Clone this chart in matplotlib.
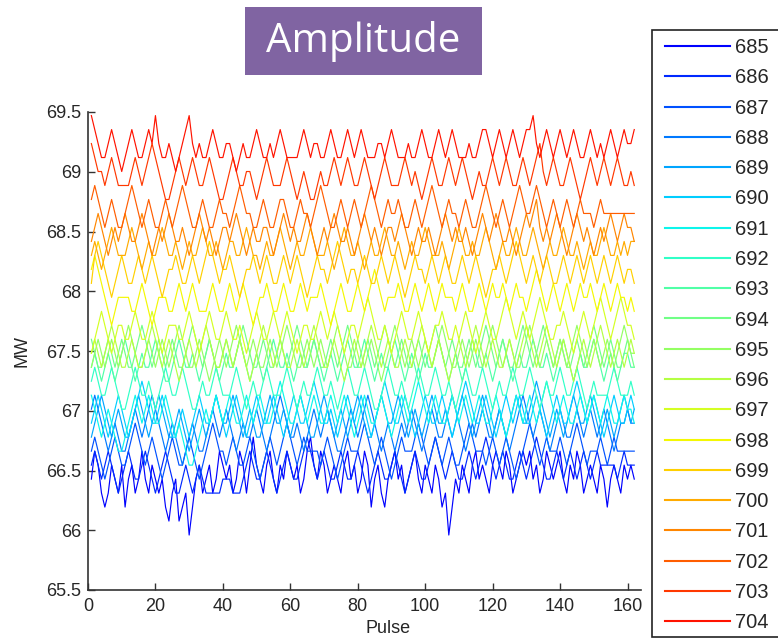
import numpy as np
import matplotlib
matplotlib.use("Agg")
import matplotlib.pyplot as plt
from matplotlib.patches import Rectangle

plt.rcParams["font.family"] = ["Liberation Sans", "DejaVu Sans"]

# Readings are quantised; each list holds the level index.
# MW value = LEVEL_BASE + LEVEL_STEP * level
LEVEL_BASE = 65.96
LEVEL_STEP = 0.117

wavelengths = ["685", "686", "687", "688", "689", "690", "691", "692", "693", "694",
               "695", "696", "697", "698", "699", "700", "701", "702", "703", "704"]

s685 = [4,6,5,3,2,3,5,4,3,5, 2,4,5,3,4,6,4,3,5,4, 3,4,2,1,3,4,1,2,3,0, 2,4,5,3,4,5,3,4,6,5,
        4,5,3,4,6,5,3,5,7,5, 4,3,5,6,4,3,5,4,6,5, 4,5,3,4,6,7,5,4,6,5, 3,4,5,4,3,5,6,4,5,3,
        4,6,5,2,4,5,3,2,4,5, 6,4,5,3,4,5,6,4,3,5, 4,3,5,4,2,3,0,2,4,3, 5,4,3,5,6,4,5,4,3,5,
        6,5,4,6,5,3,4,5,6,5, 6,4,5,3,4,6,5,4,5,6, 4,3,5,4,6,5,3,4,5,4, 3,5,4,2,4,5,4,3,5,4, 5,4]
s686 = [5,6,5,4,5,6,5,4,3,4, 5,6,5,4,4,5,6,5,4,3, 4,5,6,5,4,3,3,4,5,4, 3,4,5,4,3,3,3,3,3,4,
        4,4,3,3,3,4,5,6,5,4, 4,5,6,5,4,3,4,5,6,5, 4,4,5,6,7,6,5,4,5,6, 5,4,4,5,6,5,4,4,5,6,
        5,4,3,4,5,6,5,4,4,5, 6,5,4,3,4,5,6,5,4,4, 5,6,7,6,5,4,5,6,5,4, 4,5,6,5,4,5,6,7,6,5,
        4,5,6,5,4,4,5,6,5,4, 5,6,7,6,5,4,4,5,6,5, 4,5,6,5,4,5,6,5,4,5, 6,5,5,5,5,5,4,5,6,5, 5,5]
s687 = [6,7,6,5,4,5,6,7,6,5, 5,6,7,8,7,6,5,6,7,6, 5,4,5,6,7,6,5,5,6,7, 6,5,4,5,6,7,8,7,6,6,
        5,6,7,6,5,5,6,7,6,5, 4,5,6,7,6,5,6,7,8,7, 6,5,6,7,6,6,6,6,5,6, 7,6,5,4,5,6,7,6,6,6,
        7,8,7,6,5,6,7,6,5,4, 5,6,7,6,6,6,7,8,7,6, 5,6,7,6,5,6,7,6,5,5, 6,7,8,7,6,6,6,5,6,7,
        6,5,6,7,6,5,4,5,6,7, 8,7,6,5,6,7,6,6,6,7, 6,5,6,7,8,7,6,5,6,6, 6,7,6,5,6,7,6,6,6,6, 6,6]
s688 = [9,10,9,8,7,6,7,8,7,6, 6,7,8,9,8,7,8,9,10,9, 8,7,6,7,8,7,6,5,6,7, 8,7,6,6,7,8,9,8,7,8,
        9,8,7,6,7,8,7,7,8,9, 8,7,6,7,8,9,10,9,8,7, 7,8,7,6,7,8,9,8,7,8, 9,8,7,6,6,7,8,9,8,7,
        8,9,10,9,8,7,6,7,8,7, 6,7,8,7,8,9,8,7,6,7, 8,9,8,7,7,8,9,10,9,8, 7,6,7,8,7,8,9,8,7,7,
        8,9,8,7,6,7,8,9,10,9, 8,7,8,9,8,7,6,7,8,9, 8,7,7,8,9,8,7,8,9,8, 7,8,9,8,7,6,7,8,8,9, 8,8]
s689 = [7,8,9,10,9,8,7,8,9,8, 7,7,8,9,10,9,8,7,8,9, 10,9,8,7,7,8,9,8,7,6, 7,8,9,8,7,8,9,10,9,8,
        8,9,10,9,8,7,8,9,8,7, 7,8,9,10,9,8,8,9,8,7, 8,9,10,9,8,7,7,8,9,10, 9,8,7,8,9,8,7,8,9,10,
        9,8,7,7,8,9,10,9,8,8, 9,10,9,8,7,8,9,8,7,8, 9,10,9,8,8,9,8,7,8,9, 10,9,8,7,8,9,10,9,8,7,
        8,9,8,7,8,9,10,9,8,8, 9,10,11,10,9,8,7,8,9,8, 7,8,9,10,9,8,8,9,10,9, 8,7,8,9,8,7,8,9,10,9, 8,9]
s690 = [8,9,10,9,8,7,8,9,10,9, 8,7,8,9,10,11,10,9,8,8, 9,10,9,8,7,7,8,9,8,7, 8,9,10,9,8,8,9,10,9,8,
        7,8,9,10,9,8,7,8,9,10, 9,8,8,9,10,9,8,7,8,9, 10,9,8,8,9,10,11,10,9,8, 8,9,8,7,8,9,10,9,8,9,
        10,9,8,7,8,9,10,11,10,9, 8,8,9,10,9,8,7,8,9,10, 9,8,8,9,10,9,8,7,8,9, 10,11,10,9,8,8,9,10,9,8,
        7,8,9,10,9,8,9,10,9,8, 8,9,10,9,8,7,8,9,10,9, 8,8,9,10,11,10,9,8,9,10, 9,8,7,8,9,10,9,8,8,9, 10,9]
s691 = [10,9,8,7,8,9,8,7,6,6, 7,8,9,10,9,8,9,10,9,8, 8,9,10,9,8,7,8,7,6,5, 5,6,7,8,9,8,9,10,9,8,
        9,10,9,8,8,9,10,9,8,9, 10,9,8,8,9,10,11,10,9,8, 8,9,10,9,8,9,10,9,8,8, 9,10,9,8,9,10,9,8,7,8,
        9,10,9,8,8,9,10,9,8,7, 8,9,10,9,8,9,10,11,10,9, 8,9,10,9,8,8,9,10,9,8, 9,10,9,8,9,10,9,8,8,9,
        10,9,8,7,8,9,10,9,8,9, 10,9,8,9,10,11,10,9,8,9, 10,9,8,8,9,10,9,8,9,10, 9,8,9,10,9,8,8,9,10,9, 9,8]
s692 = [11,12,11,10,10,11,12,11,10,9, 9,10,11,12,11,10,10,11,10,9, 10,11,12,11,10,10,11,12,11,10,
        9,9,10,11,10,10,11,12,11,10, 10,10,11,12,11,10,9,10,11,10, 10,11,12,11,10,10,10,11,12,11,
        10,9,10,11,10,10,11,12,11,10, 10,11,10,9,10,11,12,11,10,10, 11,12,11,10,9,9,10,11,12,11,
        10,10,11,10,9,10,11,12,11,10, 10,11,12,11,10,10,11,10,9,10, 11,12,11,10,10,11,12,11,10,9,
        10,11,10,10,11,12,11,10,10,11, 12,11,10,9,10,11,10,10,11,12, 11,10,10,11,12,11,10,9,10,11,
        10,10,10,10,11,12,11,10,10,10, 11,10]
s693 = [12,13,12,11,12,13,12,11,12,13, 14,13,12,11,12,13,12,12,13,14, 13,12,11,11,12,13,14,13,12,12,
        13,12,11,12,13,14,13,12,11,12, 13,12,12,13,14,13,12,11,12,13, 12,11,12,13,14,13,12,12,13,12,
        11,12,13,12,12,13,14,13,12,11, 12,13,12,11,12,13,14,13,12,12, 13,14,13,12,11,12,13,12,12,13,
        14,13,12,11,12,13,12,11,12,13, 12,12,13,14,13,12,11,12,13,12, 11,12,13,14,13,12,12,13,12,11,
        12,13,14,13,12,11,12,13,12,12, 13,14,13,12,12,13,12,11,12,13, 14,13,12,11,12,13,12,12,13,14,
        13,12,11,12,13,12,11,12,13,13, 12,12]
s694 = [14,13,12,12,13,14,13,12,13,14, 13,12,12,13,14,15,14,13,12,13, 14,13,12,13,14,13,12,12,13,14,
        15,14,13,12,13,14,13,12,12,13, 14,13,12,13,14,15,14,13,12,12, 13,14,13,12,12,13,14,13,12,13,
        14,15,14,13,12,13,14,13,12,12, 13,14,13,12,13,14,15,14,13,12, 12,13,14,13,12,13,14,15,14,13,
        12,13,14,13,12,12,13,14,13,12, 13,14,15,14,13,12,13,14,13,12, 12,13,14,13,12,13,14,15,14,13,
        12,13,14,13,12,12,13,14,15,14, 13,12,13,14,15,14,13,12,13,14, 13,12,12,13,14,13,12,13,14,15,
        14,13,12,13,14,13,12,12,13,14, 13,12]
s695 = [12,13,14,13,12,13,14,13,12,13, 14,15,14,13,12,12,13,14,13,12, 13,14,13,12,13,14,15,14,13,12,
        12,13,14,13,12,11,12,13,14,13, 12,13,14,15,14,13,12,13,14,13, 12,12,13,14,13,12,13,14,15,14,
        13,12,12,13,14,13,12,13,14,13, 12,13,14,15,14,13,12,12,13,14, 13,12,13,14,13,12,11,12,13,14,
        15,14,13,12,13,14,13,12,13,14, 13,12,13,14,15,14,13,12,12,13, 14,13,12,13,14,13,12,13,14,15,
        14,13,12,13,14,13,12,12,13,14, 15,14,13,12,13,14,13,12,13,14, 13,12,13,14,15,14,13,12,13,14,
        13,12,13,14,13,12,13,14,15,14, 13,13]
s696 = [13,14,13,12,13,14,15,14,13,12, 12,13,14,13,12,12,13,14,15,14, 13,12,13,14,13,12,11,12,13,14,
        13,12,13,14,15,14,13,12,12,13, 14,13,12,13,14,13,12,11,12,13, 14,15,14,13,12,13,14,13,12,12,
        13,14,13,12,13,14,15,14,13,12, 12,13,14,13,12,11,12,13,14,13, 12,13,14,15,14,13,12,13,14,13,
        12,12,13,14,13,12,13,14,15,14, 13,12,13,14,13,12,11,12,13,14, 13,12,13,14,15,14,13,12,13,14,
        13,12,12,13,14,13,12,13,14,15, 14,13,12,13,14,15,14,13,12,13, 14,13,12,11,12,13,14,13,12,13,
        14,15,14,13,12,13,14,13,12,13, 14,13]
s697 = [13,14,15,16,15,14,13,14,15,15, 14,14,15,16,15,14,14,15,16,15, 14,13,14,15,15,15,14,14,15,16,
        15,14,13,14,15,16,15,14,14,15, 16,15,14,14,15,14,13,14,15,16, 15,14,14,15,16,15,14,15,16,15,
        14,13,14,15,15,14,14,15,16,15, 14,15,16,15,14,13,14,15,15,14, 15,16,17,16,15,14,14,15,14,13,
        14,15,16,15,14,14,15,16,15,14, 13,14,15,15,16,15,14,14,15,14, 15,16,15,14,13,14,15,16,15,14,
        14,15,16,17,16,15,14,15,16,15, 14,15,16,17,16,15,14,14,15,15, 16,15,14,13,14,15,16,15,14,15,
        16,17,16,15,14,15,16,17,16,15, 15,14]
s698 = [19,20,19,18,17,16,15,16,17,17, 17,17,16,16,17,18,17,16,15,16, 17,17,17,16,16,17,18,17,16,17,
        18,17,16,16,16,17,18,17,16,16, 17,18,17,16,17,18,17,16,15,16, 17,17,18,17,16,16,17,18,17,16,
        16,17,18,17,16,17,17,17,18,17, 16,15,16,17,18,17,16,16,17,18, 17,16,17,18,19,18,17,16,17,17,
        17,18,17,16,16,17,18,17,16,17, 18,17,16,17,18,17,17,17,16,17, 18,17,16,16,17,18,17,16,17,18,
        17,17,18,17,16,17,18,17,17,16, 17,18,19,18,17,16,17,18,17,16, 17,18,17,16,17,18,17,17,18,17,
        16,17,18,17,16,17,18,17,17,16, 17,16]
s699 = [18,20,21,20,19,18,17,18,19,20, 19,18,18,19,20,19,18,19,20,19, 18,17,18,19,19,20,19,18,18,19,
        20,19,18,19,20,21,20,19,18,19, 19,20,19,18,17,18,19,19,20,19, 18,19,20,19,18,18,19,20,19,18,
        19,20,19,18,17,18,19,20,19,19, 18,19,20,21,20,19,18,19,19,18, 19,20,19,18,18,19,20,19,18,19,
        20,19,18,17,18,19,20,19,19,18, 19,20,19,18,19,20,19,18,18,19, 20,19,18,19,20,19,18,17,18,19,
        19,20,19,18,19,20,21,20,19,18, 19,20,19,18,19,20,19,18,18,19, 20,19,18,19,20,19,18,19,20,19,
        18,19,20,19,18,19,20,19,18,19, 19,18]
s700 = [20,21,20,19,20,21,22,21,20,20, 20,21,22,21,20,19,20,21,20,20, 21,22,21,20,20,21,20,19,20,21,
        20,20,21,22,21,20,20,21,20,19, 20,21,21,20,20,21,22,21,20,20, 19,20,21,20,20,21,22,21,20,19,
        20,21,20,20,21,22,21,20,20,20, 21,20,19,20,21,22,21,20,20,21, 20,19,20,21,20,20,21,22,21,20,
        20,21,20,19,20,21,20,20,21,22, 21,20,20,20,21,20,19,20,21,22, 21,20,20,21,20,20,21,22,21,20,
        19,20,21,20,20,21,22,21,20,20, 21,22,21,20,19,20,21,20,20,21, 22,21,20,20,21,20,19,20,21,20,
        20,21,22,21,20,20,21,20,21,20, 21,21]
s701 = [21,22,23,22,21,20,21,22,21,22, 23,22,21,21,22,23,22,21,20,21, 22,21,22,23,22,21,21,22,21,20,
        21,22,23,22,21,22,21,20,21,22, 22,21,22,23,22,21,20,21,22,21, 21,22,22,21,20,21,22,23,22,21,
        22,21,21,22,23,22,21,20,21,22, 21,22,23,22,21,21,22,21,20,21, 22,23,22,21,22,21,20,21,22,22,
        21,22,23,22,21,20,21,22,21,21, 22,21,20,21,22,23,22,21,22,21, 21,22,21,20,21,22,23,22,21,22,
        23,22,21,21,22,21,20,21,22,23, 22,23,24,22,21,22,21,22,23,22, 21,20,21,22,23,22,21,22,21,20,
        21,22,21,22,23,22,21,22,23,22, 22,21]
s702 = [24,25,24,23,22,23,24,23,22,22, 23,24,25,24,23,22,23,24,23,22, 22,23,24,23,22,23,24,25,24,23,
        22,22,23,24,23,22,22,23,24,23, 23,22,23,24,25,24,23,23,22,22, 23,24,23,22,22,23,24,24,23,22,
        22,23,24,23,23,22,23,24,25,24, 23,22,22,23,24,23,22,23,24,23, 22,23,24,25,24,23,22,23,24,23,
        23,24,23,22,22,23,24,23,22,23, 24,25,24,23,22,23,24,23,23,22, 23,24,23,22,22,23,24,25,24,23,
        22,23,24,23,22,23,24,25,24,23, 23,24,25,24,23,22,23,24,23,22, 23,24,23,22,23,24,23,23,23,22,
        23,24,23,23,23,23,23,23,23,23, 23,23]
s703 = [28,27,26,26,25,26,27,26,25,25, 25,25,26,27,26,25,26,27,28,27, 26,25,24,24,25,26,27,26,25,26,
        27,26,25,25,26,27,26,25,24,24, 25,26,27,26,25,25,26,26,25,24, 25,26,27,26,25,25,25,26,27,26,
        25,24,25,26,25,24,24,25,26,25, 25,26,27,26,25,26,27,26,25,25, 26,27,26,25,24,25,26,27,26,25,
        25,25,26,27,26,25,26,25,24,25, 26,27,26,25,25,26,27,26,25,26, 27,26,25,24,25,26,25,25,26,27,
        26,25,26,27,26,25,25,26,27,26, 25,26,27,28,26,25,26,27,26,25, 25,26,27,26,25,24,25,26,27,26,
        25,26,27,26,25,26,27,26,25,25, 26,25]
s704 = [30,29,28,27,27,28,29,28,27,26, 27,28,29,28,27,27,28,29,28,30, 28,27,27,28,27,26,27,28,29,30,
        28,27,28,27,27,28,29,28,27,27, 28,28,27,26,27,28,27,27,28,29, 28,27,27,28,27,28,29,28,27,27,
        27,27,28,29,28,27,28,28,27,27, 28,29,28,27,27,28,29,28,27,28, 29,28,27,27,27,28,28,27,28,29,
        28,27,27,27,28,27,27,28,29,28, 27,27,28,29,28,27,28,29,28,27, 27,27,28,27,27,28,29,29,28,27,
        28,29,28,27,28,29,28,27,28,29, 29,30,28,27,28,29,28,27,28,29, 28,27,28,29,28,27,27,28,29,28,
        27,28,27,28,29,28,27,28,29,28, 28,29]

series = [s685, s686, s687, s688, s689, s690, s691, s692, s693, s694,
          s695, s696, s697, s698, s699, s700, s701, s702, s703, s704]

y_ticks = [65.5, 66, 66.5, 67, 67.5, 68, 68.5, 69, 69.5]
x_ticks = [0, 20, 40, 60, 80, 100, 120, 140, 160]

W, H = 778, 641
fig = plt.figure(figsize=(W / 100, H / 100), dpi=100)
fig.patch.set_facecolor("white")

def px(x0, y0, x1, y1):
    return [x0 / W, 1 - y1 / H, (x1 - x0) / W, (y1 - y0) / H]

ax = fig.add_axes(px(88, 112, 641, 590))

colors = plt.cm.jet(np.linspace(0.125, 0.89, len(series)))
handles = []
for lab, vals, c in zip(wavelengths, series, colors):
    v = LEVEL_BASE + LEVEL_STEP * np.asarray(vals, dtype=float)
    x = np.arange(1, len(v) + 1)
    h, = ax.plot(x, v, color=c, lw=0.85, label=lab)
    handles.append(h)

ax.set_xlim(0, 164)
ax.set_ylim(65.5, 69.5)
ax.set_xticks(x_ticks)
ax.set_yticks(y_ticks)
ax.set_yticklabels(["%g" % t for t in y_ticks])
ax.set_xticklabels(["%g" % t for t in x_ticks])
for s in ["top", "right"]:
    ax.spines[s].set_visible(False)
for s in ["left", "bottom"]:
    ax.spines[s].set_color("#333333")
    ax.spines[s].set_linewidth(1.2)
ax.tick_params(direction="in", length=5, width=1, colors="#333333",
               labelsize=13, labelcolor="#262626")
ax.tick_params(axis="x", pad=6)
ax.tick_params(axis="y", pad=5)
ax.set_xlabel("Pulse", fontsize=13, color="#262626")
ax.set_ylabel("MW", fontsize=13, color="#262626")
ax.xaxis.set_label_coords((388 - 88) / 553, (590 - 620) / 478)
ax.yaxis.set_label_coords((30 - 88) / 553, 0.5)

# title box
fig.patches.append(Rectangle((245 / W, 1 - 75 / H), (482 - 245) / W, (75 - 7) / H,
                             transform=fig.transFigure, facecolor="#8064A2",
                             edgecolor="none", zorder=-1))
fig.text((245 + 482) / 2 / W, 1 - 42 / H, "Amplitude", color="white",
         fontsize=29, family="Open Sans", ha="center", va="center", zorder=6)

# legend frame (extends past the right edge)
fig.patches.append(Rectangle((652 / W, 1 - 637 / H), 150 / W, (637 - 30) / H,
                             transform=fig.transFigure, facecolor="white",
                             edgecolor="#222222", lw=1.2, zorder=-1))
leg = ax.legend(handles=handles, loc="upper left",
                bbox_to_anchor=(665 / W, 1 - 38 / H), bbox_transform=fig.transFigure,
                frameon=False, fontsize=14.5, handlelength=3.25, handletextpad=0.25,
                labelspacing=0.56, borderpad=0, borderaxespad=0)
for t in leg.get_texts():
    t.set_color("#262626")
for l in leg.get_lines():
    l.set_linewidth(1.5)

fig.savefig("out.png", dpi=100)
